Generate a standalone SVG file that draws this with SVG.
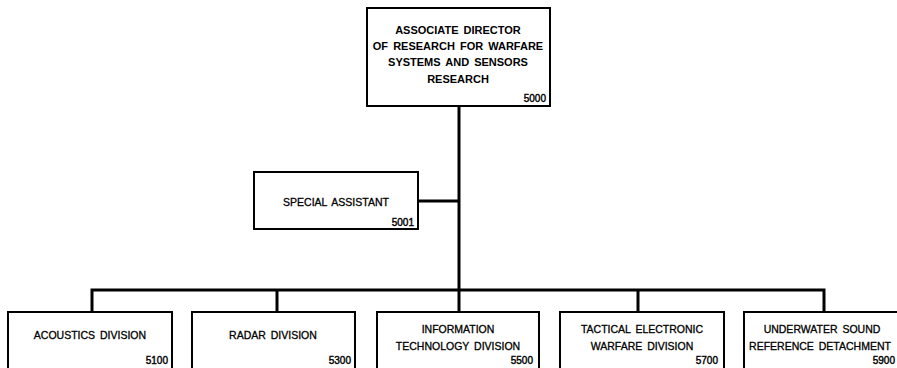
<svg xmlns="http://www.w3.org/2000/svg" width="897" height="368" viewBox="0 0 897 368">
<style>
.box{fill:#fff;stroke:#000;stroke-width:2}
.con{fill:none;stroke:#000;stroke-width:3}
text{font-family:"Liberation Sans",Arial,sans-serif;fill:#000}
.t{font-size:10.5px;text-anchor:middle;word-spacing:2px;stroke:#000;stroke-width:0.3}
.h{font-size:11px;font-weight:bold;text-anchor:middle;word-spacing:2px}
.n{font-size:10px;text-anchor:end;stroke:#000;stroke-width:0.4}
</style>
<rect width="897" height="368" fill="#fff"/>
<g id="connectors">
<path class="con" d="M459 106 V290"/>
<path class="con" d="M419 201 H459"/>
<path class="con" d="M92 312 V290 H824 V312"/>
<path class="con" d="M277 290 V312"/>
<path class="con" d="M459 290 V312"/>
<path class="con" d="M638 290 V312"/>
</g>
<g id="n5000">
<rect class="box" x="367" y="8" width="183" height="98"/>
<text class="h" x="458" y="34">ASSOCIATE DIRECTOR</text>
<text class="h" x="458" y="50">OF RESEARCH FOR WARFARE</text>
<text class="h" x="458" y="66">SYSTEMS AND SENSORS</text>
<text class="h" x="458" y="83">RESEARCH</text>
<text class="n" x="546" y="102">5000</text>
</g>
<g id="n5001">
<rect class="box" x="254" y="172" width="164" height="57"/>
<text class="t" x="336" y="206">SPECIAL ASSISTANT</text>
<text class="n" x="414" y="226">5001</text>
</g>
<g id="n5100">
<rect class="box" x="8" y="312" width="164" height="58"/>
<text class="t" x="90" y="339">ACOUSTICS DIVISION</text>
<text class="n" x="168" y="364">5100</text>
</g>
<g id="n5300">
<rect class="box" x="192" y="312" width="163" height="58"/>
<text class="t" x="273" y="339">RADAR DIVISION</text>
<text class="n" x="351" y="364">5300</text>
</g>
<g id="n5500">
<rect class="box" x="377" y="312" width="162" height="58"/>
<text class="t" x="458" y="333">INFORMATION</text>
<text class="t" x="458" y="350">TECHNOLOGY DIVISION</text>
<text class="n" x="533" y="364">5500</text>
</g>
<g id="n5700">
<rect class="box" x="560" y="312" width="164" height="58"/>
<text class="t" x="642" y="333">TACTICAL ELECTRONIC</text>
<text class="t" x="642" y="350">WARFARE DIVISION</text>
<text class="n" x="718" y="364">5700</text>
</g>
<g id="n5900">
<rect class="box" x="744" y="312" width="164" height="58"/>
<text class="t" x="822" y="333">UNDERWATER SOUND</text>
<text class="t" x="820" y="350">REFERENCE DETACHMENT</text>
<text class="n" x="895" y="364">5900</text>
</g>
</svg>
